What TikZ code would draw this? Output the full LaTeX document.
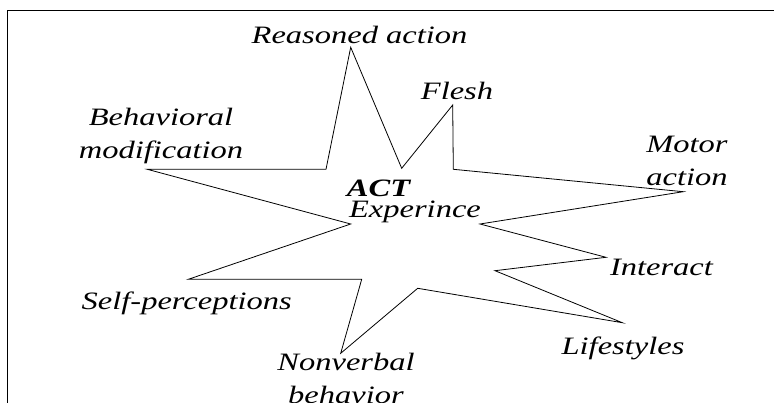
\documentclass[tikz,border=0pt]{standalone}
\usepackage{fontspec}
\setmainfont{Liberation Serif}[FakeStretch=1.3]
\begin{document}
\begin{tikzpicture}[x=1pt,y=-1pt,
  lbl/.style={font=\fontsize{25}{33}\selectfont\itshape, inner sep=0pt, align=center},
  starline/.style={line width=0.8pt, line join=miter},
  frameline/.style={line width=1pt}]
\useasboundingbox (0,0) rectangle (774,403);
% frame
\coordinate (ftr) at (774,11);
\coordinate (ftl) at (7,11);
\coordinate (fbl) at (7,403);
\draw[frameline] (ftr) -- (ftl) -- (fbl);
% star vertices
\coordinate (p1) at (350.7,47.3);
\coordinate (p2) at (401.7,168.3);
\coordinate (p3) at (452.7,105);
\coordinate (p4) at (453.3,169.3);
\coordinate (p5) at (683.3,191.7);
\coordinate (p6) at (480,224);
\coordinate (p7) at (606,257.3);
\coordinate (p8) at (495,270.7);
\coordinate (p9) at (622.3,322.7);
\coordinate (p10) at (417.7,288.3);
\coordinate (p11) at (340.7,353.3);
\coordinate (p12) at (361.7,279.3);
\coordinate (p13) at (188.3,279.3);
\coordinate (p14) at (350.7,224);
\coordinate (p15) at (147.3,169.3);
\coordinate (p16) at (326,169.3);
\draw[starline] (p1) -- (p2) -- (p3) -- (p4) -- (p5) -- (p6) -- (p7) -- (p8) -- (p9) -- (p10) -- (p11) -- (p12) -- (p13) -- (p14) -- (p15) -- (p16) -- cycle;
% labels
\node[lbl, anchor=base] (reasoned) at (359.5,44) {Reasoned action};
\node[lbl, anchor=base] (flesh) at (457,100) {Flesh};
\node[lbl] (behav) at (161,135.5) {Behavioral\\modification};
\node[lbl] (motor) at (687,160.5) {Motor\\action};
\node[lbl, anchor=base, font=\fontsize{25}{33}\selectfont\bfseries\itshape] (act) at (378.5,196.7) {ACT};
\node[lbl, anchor=base] (exper) at (415,218) {Experince};
\node[lbl, anchor=base] (interact) at (661.5,276) {Interact};
\node[lbl, anchor=base] (life) at (623,355) {Lifestyles};
\node[lbl, anchor=base] (self) at (186.7,310) {Self-perceptions};
\node[lbl] (nonverbal) at (346,378.5) {Nonverbal\\behavior};
\end{tikzpicture}
\end{document}
